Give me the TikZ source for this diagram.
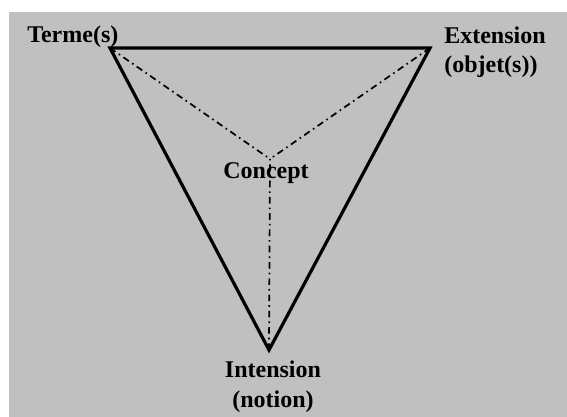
\documentclass[tikz,border=0pt]{standalone}
\usepackage{fontspec}
\setmainfont{Liberation Serif}
\usepackage{tikz}
\usetikzlibrary{positioning}
\definecolor{fondgris}{RGB}{192,192,192}

\tikzset{
  sommet/.style={font=\bfseries\fontsize{18}{22.2}\selectfont,inner sep=0pt},
  cote/.style={line width=2.4pt,line join=miter},
  rayon/.style={line width=1.3pt,dash pattern=on 5pt off 3pt on 1.2pt off 3pt}
}

\begin{document}
\begin{tikzpicture}[x=0.75pt,y=-0.75pt]
% background
\useasboundingbox (0,0) rectangle (567,417);
\fill[fondgris] (9,12) rectangle (567,417);
% corners of the triangle
\coordinate (terme) at (110,48);
\coordinate (ext) at (430,48);
\coordinate (int) at (269,350);
\coordinate (concept) at (270,159);
% dash-dot rays to the centre
\draw[rayon] (terme)--(concept);
\draw[rayon] (ext)--(concept);
\draw[rayon] (int)--(concept);
% triangle
\draw[cote] (terme)--(ext)--(int)--cycle;
% labels (base = last line)
\node[sommet,anchor=base west] (lterme) at (27,42.5) {Terme(s)};
\node[sommet,anchor=base west,align=left] (lext) at (444,72.7) {Extension\\(objet(s))};
\node[sommet,anchor=base] (lconcept) at (266,179) {Concept};
\node[sommet,anchor=base,align=center] (lint) at (273,407) {Intension\\(notion)};
\end{tikzpicture}
\end{document}
